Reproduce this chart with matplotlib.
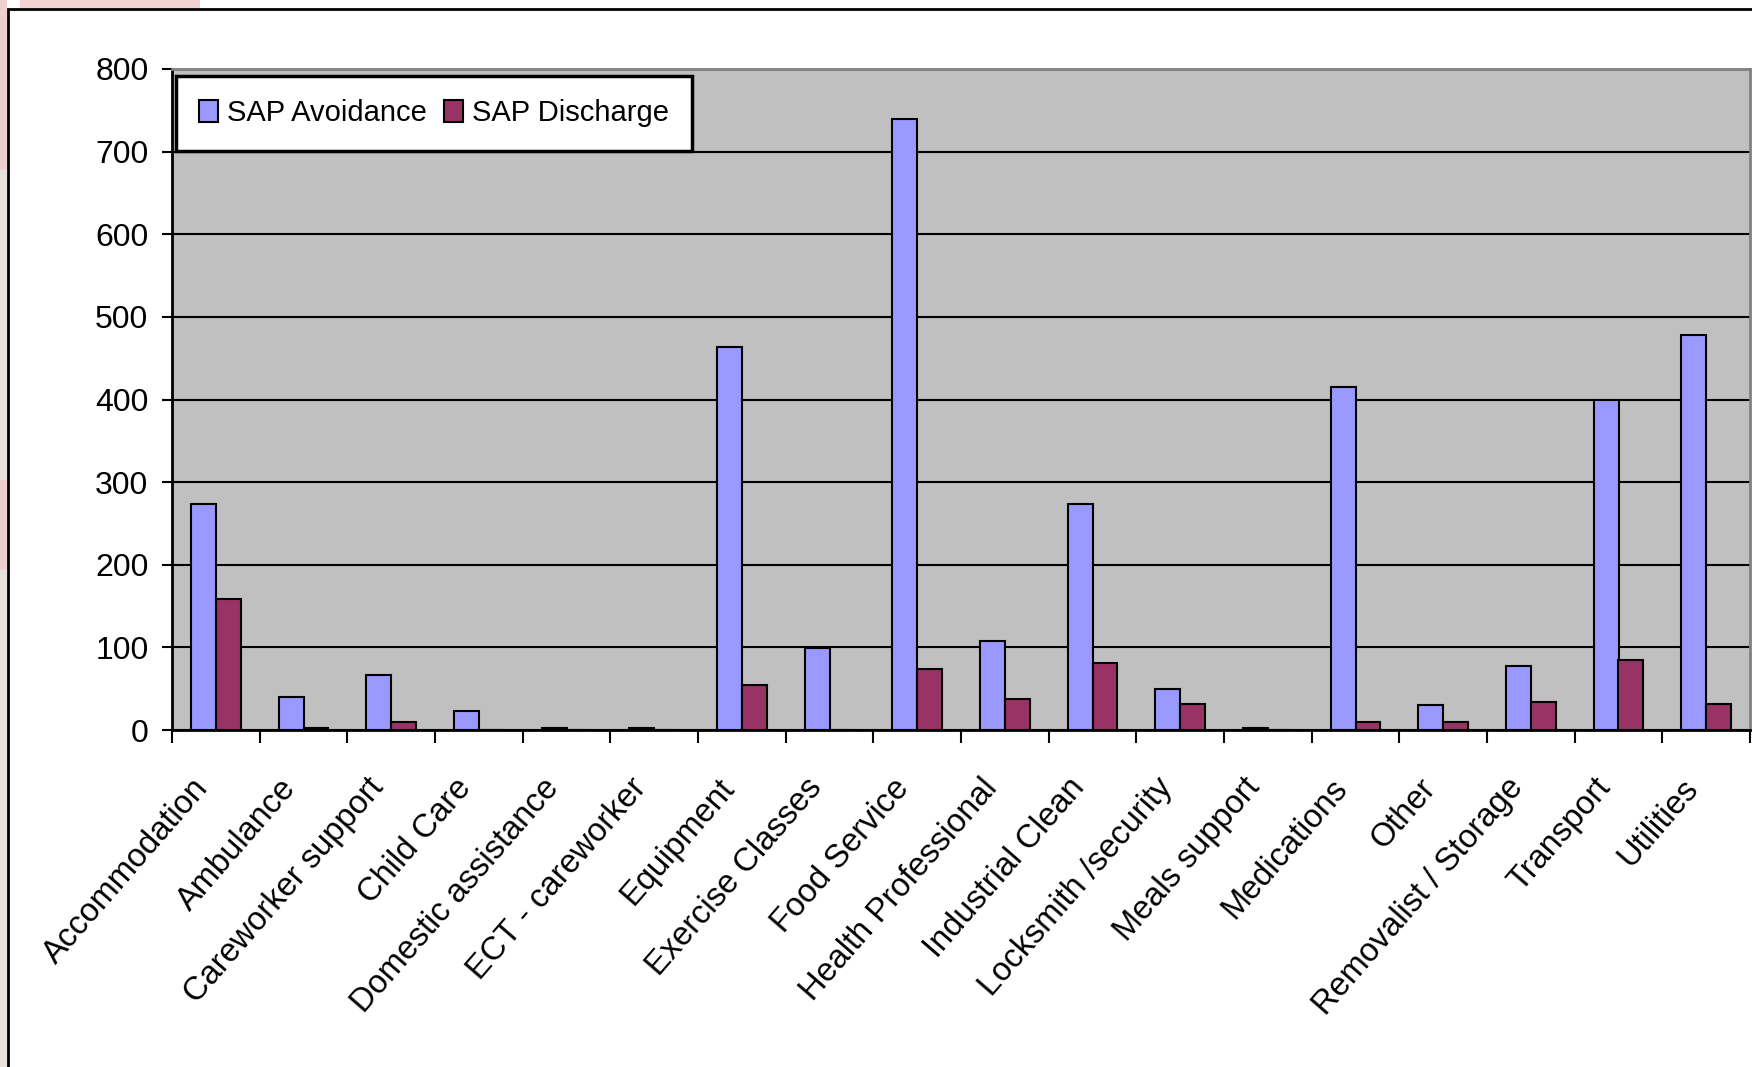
import matplotlib.pyplot as plt
import matplotlib.transforms as mtransforms
import numpy as np
from matplotlib.patches import Rectangle

# SAP services: avoidance vs discharge counts per service type
categories = ['Accommodation', 'Ambulance', 'Careworker support', 'Child Care',
              'Domestic assistance', 'ECT - careworker', 'Equipment', 'Exercise Classes',
              'Food Service', 'Health Professional', 'Industrial Clean',
              'Locksmith /security', 'Meals support', 'Medications', 'Other',
              'Removalist / Storage', 'Transport', 'Utilities']
avoidance = [273, 40, 67, 23, 3, 3, 463, 99, 740, 108, 273, 50, 3, 415, 30, 77, 399, 478]
discharge = [158, 3, 10, 0, 0, 0, 54, 0, 74, 38, 81, 31, 0, 10, 10, 34, 85, 31]
yticks = [0, 100, 200, 300, 400, 500, 600, 700, 800]

plt.rcParams['font.family'] = ['Liberation Sans', 'DejaVu Sans']

fig = plt.figure(figsize=(17.52, 10.67), dpi=100)
W, H = 1752, 1067

# slide background strips and outer chart frame
fig.patches.append(Rectangle((0, 0), 7 / W, 1, transform=fig.transFigure,
                             facecolor='#e6e2de', edgecolor='none', zorder=0))
fig.patches.append(Rectangle((20 / W, 1 - 8 / H), 180 / W, 8 / H, transform=fig.transFigure,
                             facecolor='#f3d2d4', edgecolor='none', zorder=0))
fig.patches.append(Rectangle((0, 1 - 170 / H), 7 / W, 170 / H, transform=fig.transFigure,
                             facecolor='#f0cfd0', edgecolor='none', zorder=0))
fig.patches.append(Rectangle((0, 1 - 570 / H), 7 / W, 90 / H, transform=fig.transFigure,
                             facecolor='#f0cfd0', edgecolor='none', zorder=0))
fig.patches.append(Rectangle((7.5 / W, -0.05), 1.2, 1 - 8.5 / H + 0.05,
                             transform=fig.transFigure, facecolor='white',
                             edgecolor='black', linewidth=2, zorder=1))

ax = fig.add_axes([172 / W, 1 - 730 / H, 1578 / W, (730 - 69) / H])
ax.set_facecolor('#c0c0c0')
ax.set_zorder(2)

x = np.arange(len(categories))
w = 0.285
ax.bar(x - w / 2, avoidance, w, color='#9999ff', edgecolor='black', linewidth=1.5,
       label='SAP Avoidance', zorder=3)
ax.bar(x + w / 2, discharge, w, color='#993366', edgecolor='black', linewidth=1.5,
       label='SAP Discharge', zorder=3)

ax.set_xlim(-0.5, len(categories) - 0.5)
ax.set_ylim(0, 800)
ax.set_yticks(yticks)
ax.tick_params(axis='y', labelsize=23, length=7, width=1.5, pad=10, direction='out')
ax.yaxis.grid(True, color='black', linewidth=1.5, zorder=1)
ax.set_axisbelow(True)

# tick marks at category boundaries, labels at centers
ax.set_xticks(np.arange(len(categories) + 1) - 0.5)
ax.set_xticklabels([])
ax.tick_params(axis='x', length=9, width=1.5, direction='out')
ax.set_xticks(x, minor=True)
ax.set_xticklabels(categories, minor=True, rotation=49, ha='right', va='center',
                   rotation_mode='anchor', fontsize=23.5)
ax.tick_params(axis='x', which='minor', length=0, pad=38)
shift = mtransforms.ScaledTranslation(-13 / 100, 0, fig.dpi_scale_trans)
for lbl in ax.get_xticklabels(minor=True):
    lbl.set_transform(lbl.get_transform() + shift)

for side in ['left', 'bottom']:
    ax.spines[side].set_linewidth(2)
for side in ['top', 'right']:
    ax.spines[side].set_color('#808080')
    ax.spines[side].set_linewidth(2)

leg = ax.legend(loc='upper left', bbox_to_anchor=(176 / W, 1 - 76 / H),
                bbox_transform=fig.transFigure, ncol=2, fontsize=21,
                frameon=True, fancybox=False, borderaxespad=0,
                handlelength=0.65, handleheight=0.75, handletextpad=0.3,
                columnspacing=0.6, borderpad=0.8)
leg.get_frame().set_edgecolor('black')
leg.get_frame().set_linewidth(2.5)
leg.get_frame().set_facecolor('white')
leg.get_frame().set_alpha(1)
for h in leg.legend_handles:
    h.set_linewidth(1.5)

fig.savefig('out.png', dpi=100)
